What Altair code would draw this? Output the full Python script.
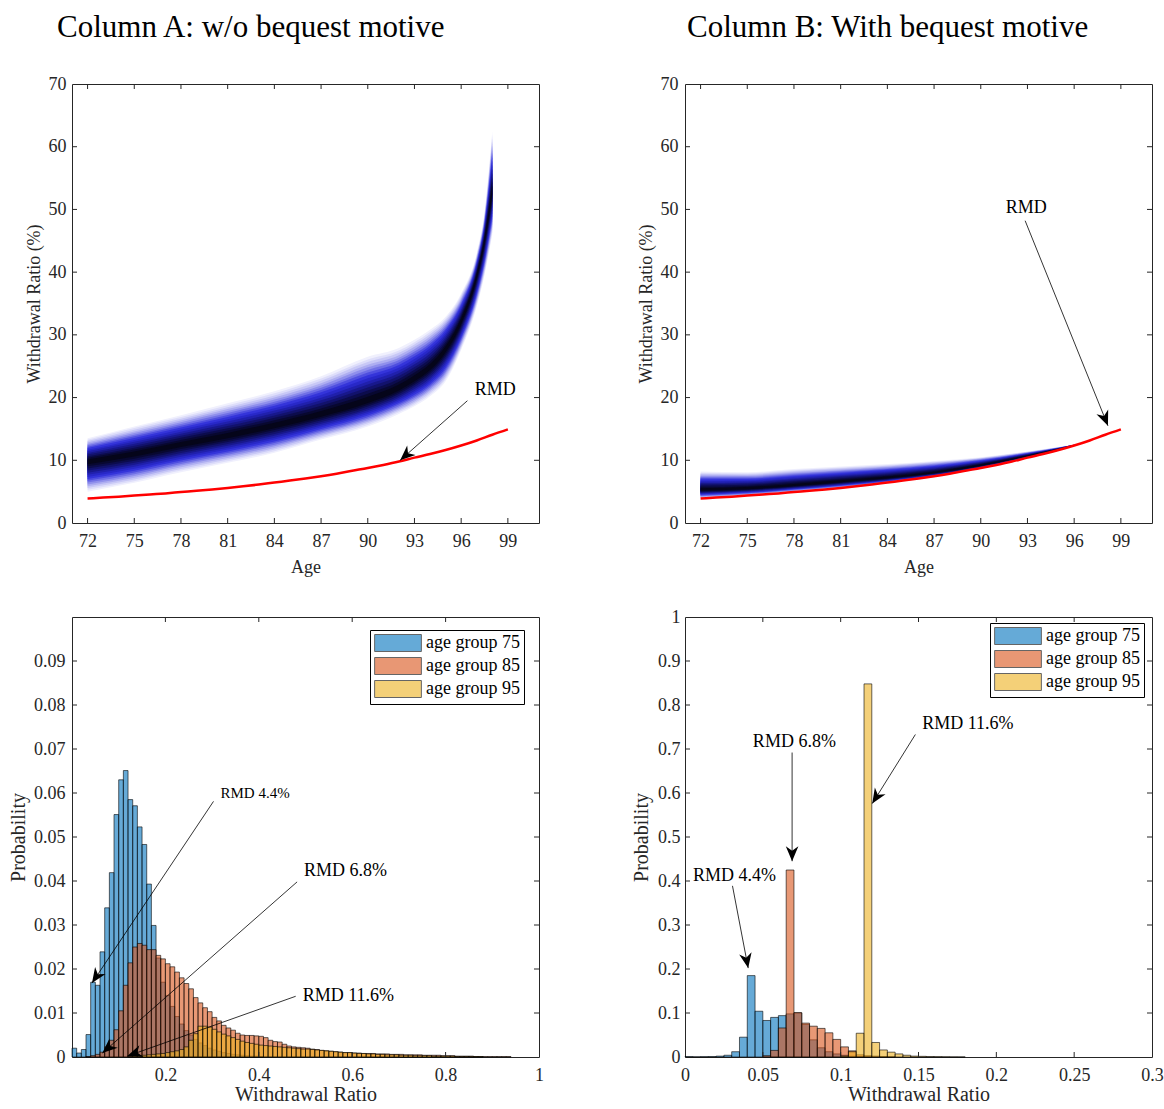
import math
import altair as alt
import pandas as pd

FONT = "Liberation Serif"
INK = "#262626"

# ---------------- data: top panels ----------------
RMD_AGES = list(range(72, 100))
RMD_PCT = [3.91, 4.05, 4.20, 4.37, 4.55, 4.72, 4.93, 5.13, 5.35, 5.59, 5.85, 6.13, 6.45, 6.76,
           7.09, 7.46, 7.87, 8.33, 8.77, 9.26, 9.80, 10.42, 10.99, 11.63, 12.35, 13.16, 14.08, 14.93]

FAN_A_AGES = [72, 75, 78, 81, 84, 87, 90, 92, 93, 94, 95, 96, 97, 97.5, 98]
FAN_A_MID = [9.8, 11.0, 12.5, 13.9, 15.5, 17.3, 19.5, 21.5, 23.0, 24.8, 27.7, 32.2, 39.4, 45.0, 53.0]
FAN_A_HI = [13.5, 15.4, 17.2, 19.1, 21.0, 23.4, 26.5, 27.9, 29.2, 30.8, 32.9, 36.6, 43.0, 49.5, 62.5]
FAN_A_LO = [5.0, 6.4, 8.1, 9.6, 11.2, 13.3, 15.4, 17.4, 18.6, 20.2, 22.6, 27.6, 34.5, 39.5, 46.0]

FAN_B_AGES = [72, 75, 78, 81, 84, 87, 90, 93, 95, 96]
FAN_B_MID = [5.3, 5.5, 6.0, 6.6, 7.2, 8.0, 9.2, 10.7, 11.8, 12.4]
FAN_B_HI = [8.2, 8.1, 8.6, 9.0, 9.4, 9.9, 10.5, 11.4, 12.1, 12.5]
FAN_B_LO = [3.9, 4.3, 4.9, 5.5, 6.3, 7.3, 8.6, 10.3, 11.5, 12.3]

AGE_TICKS = [72, 75, 78, 81, 84, 87, 90, 93, 96, 99]
PCT_TICKS = [0, 10, 20, 30, 40, 50, 60, 70]

# ---------------- data: histograms ----------------
GROUPS = ["age group 75", "age group 85", "age group 95"]
GROUP_COLORS = ["#0072BD", "#D95319", "#EDB120"]

BIN_A = 0.01
BLUE_A = [0.0020, 0.0009, 0.0017, 0.0051, 0.0170, 0.0163, 0.0239, 0.0339, 0.0419, 0.0551,
          0.0630, 0.0651, 0.0585, 0.0571, 0.0523, 0.0483, 0.0393, 0.0299, 0.0225, 0.0170,
          0.0140, 0.0115, 0.0092, 0.0075, 0.0060, 0.0050, 0.0040, 0.0032, 0.0026, 0.0020,
          0.0016, 0.0013, 0.0010, 0.0008, 0.0006, 0.0005, 0.0004, 0.0003, 0.0002, 0.0002, 0.0001]
ORANGE_A = [0, 0, 0, 0.0001, 0.0003, 0.0006, 0.0011, 0.0023, 0.0038, 0.0062,
            0.0105, 0.0163, 0.0214, 0.0250, 0.0258, 0.0254, 0.0244, 0.0244, 0.0231, 0.0223,
            0.0212, 0.0205, 0.0193, 0.0180, 0.0167, 0.0155, 0.0135, 0.0123, 0.0112, 0.0103,
            0.0090, 0.0082, 0.0072, 0.0066, 0.0061, 0.0054, 0.0050, 0.0049, 0.0049, 0.0048,
            0.0047, 0.0044, 0.0038, 0.0035, 0.0034, 0.0029, 0.0025, 0.0023, 0.0022, 0.0021,
            0.0020, 0.0018, 0.0017, 0.0015, 0.0014, 0.0013, 0.0012, 0.0011, 0.0010, 0.0010,
            0.0009, 0.0009, 0.0008, 0.0008, 0.0008, 0.0007, 0.0007, 0.0007, 0.0006, 0.0006,
            0.0006, 0.0005, 0.0005, 0.0005, 0.0005, 0.0004, 0.0004, 0.0004, 0.0004, 0.0003,
            0.0003, 0.0003, 0.0002, 0.0002, 0.0002, 0.0002, 0.0001, 0.0001, 0.0001, 0.0001,
            0.0001, 0.0001, 0.0001, 0.0001]
YELLOW_A = [0, 0, 0, 0, 0, 0, 0, 0, 0, 0,
            0, 0, 0.0001, 0.0002, 0.0003, 0.0004, 0.0005, 0.0006, 0.0007, 0.0008,
            0.0010, 0.0012, 0.0014, 0.0017, 0.0023, 0.0038, 0.0053, 0.0070, 0.0070, 0.0068,
            0.0063, 0.0057, 0.0052, 0.0048, 0.0044, 0.0040, 0.0036, 0.0033, 0.0031, 0.0029,
            0.0027, 0.0026, 0.0025, 0.0024, 0.0023, 0.0022, 0.0021, 0.0020, 0.0019, 0.0018,
            0.0018, 0.0017, 0.0016, 0.0015, 0.0014, 0.0013, 0.0012, 0.0011, 0.0010, 0.0010,
            0.0009, 0.0008, 0.0008, 0.0007, 0.0007, 0.0006, 0.0006, 0.0005, 0.0005, 0.0005,
            0.0004, 0.0004, 0.0004, 0.0003, 0.0003, 0.0003, 0.0003, 0.0002, 0.0002, 0.0002,
            0.0002, 0.0002, 0.0001, 0.0001, 0.0001, 0.0001, 0.0001, 0.0001]

BIN_B = 0.005
BLUE_B = [0.001, 0.0005, 0.0008, 0.001, 0.002, 0.004, 0.012, 0.045, 0.185, 0.104,
          0.083, 0.090, 0.094, 0.098, 0.100, 0.074, 0.039, 0.021, 0.012, 0.007,
          0.004, 0.002, 0.001, 0.0005]
ORANGE_B = [0, 0, 0, 0, 0, 0, 0, 0, 0, 0,
            0.003, 0.015, 0.066, 0.425, 0.101, 0.077, 0.070, 0.065, 0.055, 0.040,
            0.023, 0.014, 0.005, 0.003, 0.002, 0.001, 0.0005]
YELLOW_B = [0, 0, 0, 0, 0, 0, 0, 0, 0, 0,
            0, 0, 0, 0, 0, 0, 0, 0, 0, 0,
            0.002, 0.012, 0.054, 0.848, 0.033, 0.016, 0.011, 0.007, 0.004, 0.002,
            0.0015, 0.001, 0.0008, 0.0005, 0.0003, 0.0002]

XLAB_A = [0.2, 0.4, 0.6, 0.8, 1.0]
XIN_A = [0.2, 0.4, 0.6, 0.8]
YLAB_A = [0, 0.01, 0.02, 0.03, 0.04, 0.05, 0.06, 0.07, 0.08, 0.09]
XLAB_B = [0, 0.05, 0.1, 0.15, 0.2, 0.25, 0.3]
YLAB_B = [0, 0.1, 0.2, 0.3, 0.4, 0.5, 0.6, 0.7, 0.8, 0.9, 1.0]

# ---------------- annotations ----------------
ANN_TL = dict(txt=["RMD"], tx=[96.87], ty=[21.2], x0=[96.4], y0=[19.5], x1=[92.08], y1=[10.0], fs=[18])
ANN_TR = dict(txt=["RMD"], tx=[91.6], ty=[50.2], x0=[92.85], y0=[48.2], x1=[98.17], y1=[15.5], fs=[18])
ANN_BL = dict(txt=["RMD 4.4%", "RMD 6.8%", "RMD 11.6%"],
              tx=[0.318, 0.497, 0.494], ty=[0.0600, 0.0423, 0.0138],
              x0=[0.303, 0.482, 0.479], y0=[0.0581, 0.0398, 0.0138],
              x1=[0.0428, 0.065, 0.1185], y1=[0.0168, 0.0009, 0.0002], fs=[15, 18, 18])
ANN_BR = dict(txt=["RMD 4.4%", "RMD 6.8%", "RMD 11.6%"],
              tx=[0.0051, 0.0436, 0.1524], ty=[0.412, 0.717, 0.756],
              x0=[0.0305, 0.0688, 0.148], y0=[0.389, 0.692, 0.733],
              x1=[0.0406, 0.0688, 0.1203], y1=[0.202, 0.445, 0.576], fs=[18, 18, 18])

# ---------------- styling ----------------
LEVELS = [(1.00, "#f0f0fd"), (0.94, "#dedefa"), (0.88, "#c8c8f6"), (0.82, "#aeaef1"),
          (0.76, "#9090ec"), (0.70, "#7070e6"), (0.64, "#4f4fe0"), (0.58, "#3434da"),
          (0.51, "#2828c8"), (0.44, "#2020ac"), (0.37, "#18188c"), (0.30, "#12126c"),
          (0.23, "#0c0c4c"), (0.16, "#080830"), (0.09, "#05051a")]
W, HT, HB = 467, 439, 440
TICK = 5
HEAD = "M0,0L-0.42,1L0,0.7L0.42,1Z"
HEAD_SIZE = 900
RECT = "M-2.75,-1L2.75,-1L2.75,1L-2.75,1Z"


def ax(title, values, lpad, tpad, tsize):
    return alt.Axis(title=title, values=values, format="~f", labelPadding=lpad, titlePadding=tpad,
                    titleFontSize=tsize)


def tick_layers(xs, ys, xsc, ysc, xax, yax, w, h):
    dx = pd.DataFrame({"t": xs})
    dy = pd.DataFrame({"t": ys})
    X = alt.X("t:Q", scale=xsc, axis=xax)
    Y = alt.Y("t:Q", scale=ysc, axis=yax)
    return [
        alt.Chart(dx).mark_rule(color=INK, strokeWidth=1).encode(x=X, y=alt.value(h), y2=alt.value(h - TICK)),
        alt.Chart(dx).mark_rule(color=INK, strokeWidth=1).encode(x=X, y=alt.value(0), y2=alt.value(TICK)),
        alt.Chart(dy).mark_rule(color=INK, strokeWidth=1).encode(y=Y, x=alt.value(0), x2=alt.value(TICK)),
        alt.Chart(dy).mark_rule(color=INK, strokeWidth=1).encode(y=Y, x=alt.value(w - TICK), x2=alt.value(w)),
    ]


def ann_layers(a, xsc, ysc, xax, yax, sx, sy):
    angs = [math.degrees(math.atan2((b - p) * sx, (d - c) * sy)) % 360
            for p, b, c, d in zip(a["x0"], a["x1"], a["y0"], a["y1"])]
    df = pd.DataFrame(dict(a, ang=angs))
    text = alt.Chart(df).mark_text(font=FONT, align="left", baseline="middle", color="black").encode(
        x=alt.X("tx:Q", scale=xsc, axis=xax), y=alt.Y("ty:Q", scale=ysc, axis=yax),
        text="txt:N", size=alt.Size("fs:Q", scale=None))
    line = alt.Chart(df).mark_rule(color="black", strokeWidth=0.8).encode(
        x=alt.X("x0:Q", scale=xsc, axis=xax), y=alt.Y("y0:Q", scale=ysc, axis=yax),
        x2="x1:Q", y2="y1:Q")
    head = alt.Chart(df).mark_point(shape=HEAD, filled=True, color="black", size=HEAD_SIZE,
                                    opacity=1, strokeWidth=0).encode(
        x=alt.X("x1:Q", scale=xsc, axis=xax), y=alt.Y("y1:Q", scale=ysc, axis=yax),
        angle=alt.Angle("ang:Q", scale=None))
    return [line, head, text]


def top_panel(title, tdx, ages, mid, hi, lo, ann, ylpad):
    xdom = [71, 101]
    ydom = [0, 70]
    xsc = alt.Scale(domain=xdom, nice=False, zero=False)
    ysc = alt.Scale(domain=ydom, nice=False, zero=False)
    xax = ax("Age", AGE_TICKS, 9, 8, 18)
    yax = ax("Withdrawal Ratio (%)", PCT_TICKS, ylpad, 5, 18)
    layers = []
    for f, col in LEVELS:
        df = pd.DataFrame({
            "age": ages,
            "top": [m + f * (h - m) for m, h in zip(mid, hi)],
            "bot": [m - f * (m - l) for m, l in zip(mid, lo)],
        })
        layers.append(alt.Chart(df).mark_area(color=col, interpolate="monotone").encode(
            x=alt.X("age:Q", scale=xsc, axis=xax),
            y=alt.Y("top:Q", scale=ysc, axis=yax),
            y2="bot:Q"))
    rmd = alt.Chart(pd.DataFrame({"age": RMD_AGES, "r": RMD_PCT})).mark_line(
        color="#ff0000", strokeWidth=2.5, interpolate="monotone").encode(
        x=alt.X("age:Q", scale=xsc, axis=xax), y=alt.Y("r:Q", scale=ysc, axis=yax))
    layers.append(rmd)
    layers += tick_layers(AGE_TICKS, PCT_TICKS[1:-1], xsc, ysc, xax, yax, W, HT)
    sx = W / (xdom[1] - xdom[0])
    sy = HT / (ydom[1] - ydom[0])
    layers += ann_layers(ann, xsc, ysc, xax, yax, sx, sy)
    return alt.layer(*layers).properties(
        width=W, height=HT,
        title=alt.TitleParams(title, anchor="start", frame="group", dx=tdx, fontSize=31, font=FONT,
                              fontWeight="normal", color="black", offset=7, baseline="alphabetic"))


def hist_panel(bw, series, xdom, xlab, xin, ydom, ylab, yin, ann, lx, ly, ylpad, ytpad):
    xsc = alt.Scale(domain=xdom, nice=False, zero=False)
    ysc = alt.Scale(domain=ydom, nice=False, zero=False)
    xax = ax("Withdrawal Ratio", xlab, 9, 0, 20)
    yax = ax("Probability", ylab, ylpad, ytpad, 20)
    rows = []
    for name, vals in zip(GROUPS, series):
        for k, p in enumerate(vals):
            if p > 0:
                rows.append({"x0": round(k * bw, 6), "x1": round((k + 1) * bw, 6),
                             "p": p, "z": 0.0, "grp": name})
    df = pd.DataFrame(rows)
    leg = alt.Legend(orient="none", legendX=lx, legendY=ly, title=None, symbolType=RECT,
                     symbolSize=289, symbolStrokeColor="black", symbolStrokeWidth=1,
                     symbolOpacity=0.6, symbolOffset=15, labelOffset=19, labelFont=FONT,
                     labelFontSize=18, labelColor="black", strokeColor="black",
                     fillColor="white", padding=4, rowPadding=1, labelLimit=400)
    bars = alt.Chart(df).mark_rect(fillOpacity=0.6, stroke="black", strokeWidth=0.7,
                                   strokeOpacity=0.85).encode(
        x=alt.X("x0:Q", scale=xsc, axis=xax),
        x2="x1:Q",
        y=alt.Y("p:Q", scale=ysc, axis=yax),
        y2="z:Q",
        color=alt.Color("grp:N", scale=alt.Scale(domain=GROUPS, range=GROUP_COLORS), legend=leg),
    )
    layers = [bars]
    layers += tick_layers(xin, yin, xsc, ysc, xax, yax, W, HB)
    sx = W / (xdom[1] - xdom[0])
    sy = HB / (ydom[1] - ydom[0])
    layers += ann_layers(ann, xsc, ysc, xax, yax, sx, sy)
    return alt.layer(*layers).properties(width=W, height=HB)


tl = top_panel("Column A: w/o bequest motive", -15, FAN_A_AGES, FAN_A_MID, FAN_A_HI, FAN_A_LO, ANN_TL, 6)
tr = top_panel("Column B: With bequest motive", 2, FAN_B_AGES, FAN_B_MID, FAN_B_HI, FAN_B_LO, ANN_TR, 7)
bl = hist_panel(BIN_A, [BLUE_A, ORANGE_A, YELLOW_A], [0, 1], XLAB_A, XIN_A, [0, 0.1], YLAB_A,
                YLAB_A[1:], ANN_BL, 298, 13, 7, 5)
br = hist_panel(BIN_B, [BLUE_B, ORANGE_B, YELLOW_B], [0, 0.3], XLAB_B, XLAB_B[1:-1], [0, 1], YLAB_B,
                YLAB_B[1:-1], ANN_BR, 305, 6, 5, 6)

chart = alt.concat(tl, tr, bl, br, columns=2, spacing={"row": 30, "column": 87}).resolve_scale(
    color="independent"
).resolve_legend(color="independent").properties(
    padding={"left": 8, "top": 11, "right": 0, "bottom": 0}, background="white"
).configure_view(stroke=INK, strokeWidth=1).configure_axis(
    ticks=False, domain=False, grid=False, labelFont=FONT, titleFont=FONT,
    labelFontSize=18, labelColor=INK, titleColor=INK,
    titleFontWeight="normal", labelFlush=False, labelOverlap=False
)

chart.save("out.html", embed_options={"renderer": "svg", "actions": False})
